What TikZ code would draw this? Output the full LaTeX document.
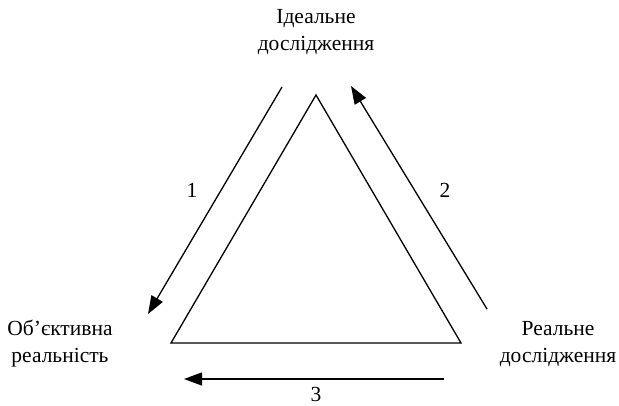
\documentclass[tikz,border=0pt]{standalone}
\usepackage{fontspec}
\setmainfont{Liberation Serif}
\usepackage{tikz}
\usetikzlibrary{arrows.meta}

\begin{document}
\begin{tikzpicture}[x=1pt, y=-1pt, line width=1.3pt,
    lbl/.style={font=\fontsize{21.5}{27}\selectfont, align=center},
    num/.style={font=\fontsize{21.5}{24}\selectfont},
    flow/.style={-{Triangle[length=18pt, width=13pt]}}]
    \useasboundingbox (0,0) rectangle (619,406);

    % Triangle
    \coordinate (tA) at (316,95);
    \coordinate (tB) at (171,343);
    \coordinate (tC) at (461,343);
    \draw (tA) -- (tB) -- (tC) -- cycle;

    % Corner labels
    \node[lbl] (ideal) at (316,32) {Ідеальне\\дослідження};
    \node[lbl] (obj) at (60,344) {Об’єктивна\\реальність};
    \node[lbl] (real) at (558,344) {Реальне\\дослідження};

    % Arrows with numbers
    \coordinate (a1s) at (282,87);
    \coordinate (a1e) at (148,314);
    \draw[flow] (a1s) -- (a1e);
    \node[num] (n1) at (192,190) {1};

    \coordinate (a2s) at (487,309);
    \coordinate (a2e) at (351,86);
    \draw[flow] (a2s) -- (a2e);
    \node[num] (n2) at (445,190) {2};

    \coordinate (a3s) at (444,379);
    \coordinate (a3e) at (184,379);
    \draw[flow] (a3s) -- (a3e);
    \node[num] (n3) at (316,394) {3};
\end{tikzpicture}
\end{document}
